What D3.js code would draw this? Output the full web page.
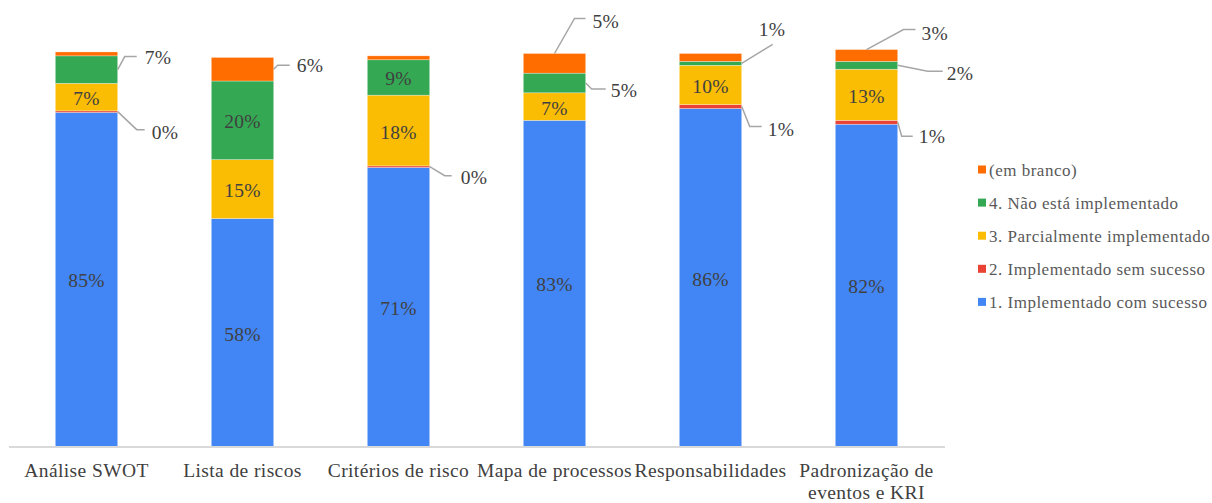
<!DOCTYPE html>
<html>
<head>
<meta charset="utf-8">
<script src="https://cdn.jsdelivr.net/npm/d3@7"></script>
<style>
  html, body { margin: 0; padding: 0; background: #fff; }
  svg { display: block; }
</style>
</head>
<body>
<svg id="chart" width="1212" height="503" font-family="'Liberation Serif', 'DejaVu Serif', serif"></svg>
<script>
// Categories (x axis) and their tick label lines
const categories = ["Análise SWOT", "Lista de riscos", "Critérios de risco", "Mapa de processos", "Responsabilidades", "Padronização de eventos e KRI"];
const categoryLines = [["Análise SWOT"], ["Lista de riscos"], ["Critérios de risco"], ["Mapa de processos"], ["Responsabilidades"], ["Padronização de", "eventos e KRI"]];

// Series names (stack order, bottom to top)
const seriesNames = ["1. Implementado com sucesso", "2. Implementado sem sucesso", "3. Parcialmente implementado", "4. Não está implementado", "(em branco)"];
const seriesColors = ["#4285F4", "#EA4335", "#FBBC04", "#34A853", "#FF6D01"];

// Percentages per category
const implementadoComSucesso = [85, 58, 71, 83, 86, 82];
const implementadoSemSucesso = [0.4, 0, 0.4, 0, 1, 1];
const parcialmenteImplementado = [7, 15, 18, 7, 10, 13];
const naoImplementado = [7, 20, 9, 5, 1, 2];
const emBranco = [1, 6, 1, 5, 2, 3];

const seriesValues = [implementadoComSucesso, implementadoSemSucesso, parcialmenteImplementado, naoImplementado, emBranco];

// Which segments carry a value label: [series index, category index]
const insideLabels = [
  [0, 0], [2, 0],
  [0, 1], [2, 1], [3, 1],
  [0, 2], [2, 2], [3, 2],
  [0, 3], [2, 3],
  [0, 4], [2, 4],
  [0, 5], [2, 5]
];
// Callout labels with leader lines: series, category, anchor side, elbow offset, horizontal run, text offset
const calloutLabels = [
  { s: 3, c: 0, at: "right", ex: 7, ey: -13, run: 12, tx: 8, ty: 1 },
  { s: 1, c: 0, at: "right", ex: 19, ey: 18, run: 8, tx: 7, ty: 3 },
  { s: 4, c: 1, at: "right", ex: 4, ey: -4, run: 12, tx: 7, ty: 1 },
  { s: 1, c: 2, at: "right", ex: 15, ey: 9, run: 7, tx: 9, ty: 2 },
  { s: 3, c: 3, at: "right", ex: 6, ey: 6, run: 14, tx: 5, ty: 2 },
  { s: 4, c: 3, at: "top", ex: 20, ey: -35, run: 11, tx: 7, ty: 3 },
  { s: 3, c: 4, at: "right", ex: 31, ey: -19, run: 0, tx: -14, ty: -14 },
  { s: 1, c: 4, at: "right", ex: 8, ey: 20, run: 12, tx: 6, ty: 3 },
  { s: 4, c: 5, at: "top", ex: 37, ey: -20, run: 12, tx: 6, ty: 4 },
  { s: 3, c: 5, at: "right", ex: 30, ey: 6, run: 15, tx: 4, ty: 3 },
  { s: 1, c: 5, at: "right", ex: 4, ey: 14, run: 11, tx: 6, ty: 1 }
];

const svg = d3.select("#chart");
const baseY = 446.5;
const topY = 53.5;
const textColor = "#404040";

const x = d3.scaleBand()
  .domain(categories)
  .range([8.5, 944.5])
  .paddingInner(0.6)
  .paddingOuter(0.3);

const y = d3.scaleLinear().domain([0, 100]).range([baseY, topY]);

// Build rows for stacking
const rows = categories.map((cat, i) => {
  const r = { category: cat };
  seriesNames.forEach((s, k) => { r[s] = seriesValues[k][i]; });
  return r;
});
const stacked = d3.stack().keys(seriesNames)(rows);

const color = d3.scaleOrdinal().domain(seriesNames).range(seriesColors);
const fmt = d3.format(".0%");

// Bars
const layers = svg.append("g").selectAll("g")
  .data(stacked)
  .join("g")
  .attr("fill", d => color(d.key));

layers.selectAll("rect")
  .data(d => d)
  .join("rect")
  .attr("x", d => x(d.data.category))
  .attr("width", x.bandwidth())
  .attr("y", d => y(d[1]))
  .attr("height", d => Math.max(0, y(d[0]) - y(d[1])))
  .attr("stroke", "rgba(255,255,255,0.5)")
  .attr("stroke-width", 0.6);

// X axis baseline and category labels
const xAxis = d3.axisBottom(x).tickSize(0).tickFormat("");
const axisG = svg.append("g").attr("transform", `translate(0,${baseY})`).call(xAxis);
axisG.select(".domain").attr("stroke", "#d9d9d9").attr("stroke-width", 2);

const tickLabels = svg.append("g").selectAll("text")
  .data(categories)
  .join("text")
  .attr("x", d => x(d) + x.bandwidth() / 2)
  .attr("y", 477)
  .attr("text-anchor", "middle")
  .attr("fill", textColor)
  .attr("font-size", 19.5)
  .attr("letter-spacing", 0.4);
tickLabels.each(function (d, i) {
  d3.select(this).selectAll("tspan")
    .data(categoryLines[i])
    .join("tspan")
    .attr("x", x(d) + x.bandwidth() / 2)
    .attr("dy", (t, j) => j === 0 ? 0 : 22)
    .text(t => t);
});

// Inside value labels
svg.append("g").selectAll("text")
  .data(insideLabels)
  .join("text")
  .attr("x", ([s, c]) => x(categories[c]) + x.bandwidth() / 2)
  .attr("y", ([s, c]) => (y(stacked[s][c][0]) + y(stacked[s][c][1])) / 2 + 8)
  .attr("text-anchor", "middle")
  .attr("fill", textColor)
  .attr("font-size", 19.5)
  .attr("letter-spacing", 0.3)
  .text(([s, c]) => fmt(seriesValues[s][c] / 100));

// Callout labels with leader lines
const callG = svg.append("g");
calloutLabels.forEach(l => {
  const seg = stacked[l.s][l.c];
  const cat = categories[l.c];
  let ax, ay;
  if (l.at === "top") {
    ax = x(cat) + x.bandwidth() / 2;
    ay = y(seg[1]);
  } else {
    ax = x(cat) + x.bandwidth();
    ay = (y(seg[0]) + y(seg[1])) / 2;
  }
  const bx = ax + l.ex, by = ay + l.ey;
  const cx = bx + l.run;
  callG.append("path")
    .attr("d", d3.line()([[ax, ay], [bx, by], [cx, by]]))
    .attr("fill", "none")
    .attr("stroke", "#a6a6a6")
    .attr("stroke-width", 1.5);
  callG.append("text")
    .attr("x", cx + l.tx)
    .attr("y", by + l.ty + 6)
    .attr("fill", textColor)
    .attr("font-size", 19.5)
    .attr("letter-spacing", 0.3)
    .text(fmt(seriesValues[l.s][l.c] / 100));
});

// Legend (top entry is the last series)
const legendItems = seriesNames.slice().reverse();
const legend = svg.append("g").selectAll("g")
  .data(legendItems)
  .join("g")
  .attr("transform", (d, i) => `translate(978,${169.5 + i * 33.1})`);
legend.append("rect")
  .attr("x", 0).attr("y", -4)
  .attr("width", 8).attr("height", 8)
  .attr("fill", d => color(d));
legend.append("text")
  .attr("x", 11).attr("y", 6)
  .attr("font-size", 17)
  .attr("letter-spacing", 0.5)
  .attr("fill", "#595959")
  .text(d => d);
</script>
</body>
</html>
